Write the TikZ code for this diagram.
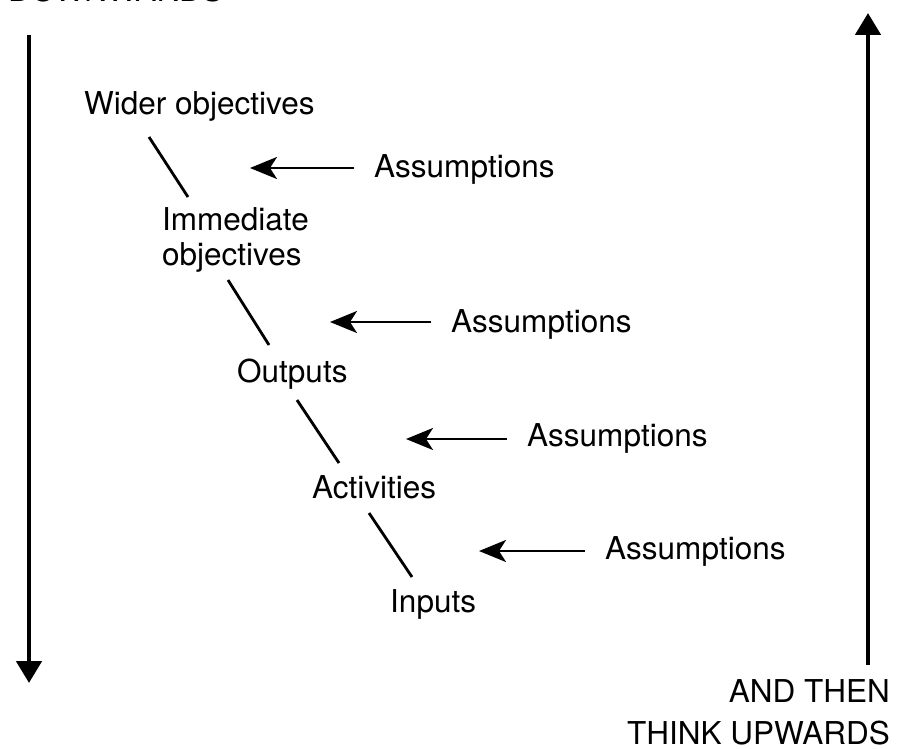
\documentclass[tikz,border=0pt]{standalone}
\usepackage{fontspec}
\setmainfont{TeX Gyre Heros}
\usetikzlibrary{arrows.meta}
\begin{document}
\begin{tikzpicture}[x=1pt,y=-1pt,
  lbl/.style={inner sep=0pt, font=\fontsize{31.5}{35}\selectfont},
  caplbl/.style={inner sep=0pt, align=right, font=\fontsize{31.5}{42}\selectfont},
  link/.style={line width=2.8pt},
  assarrow/.style={line width=2.5pt,shorten <=20pt,-{Stealth[length=27pt,width=22pt,inset=7pt]}},
  bigarrow/.style={line width=4.8pt,-{Triangle[length=22pt,width=25pt]}}]
\useasboundingbox (0,0) rectangle (897,749);
\clip (0,0) rectangle (897,749);

% cut-off heading at top left
\node[lbl,anchor=base west] (down) at (8,2) {DOWNWARDS};

% chain of levels
\node[lbl,anchor=base west] (wider) at (84,115) {Wider objectives};
\node[lbl,anchor=north west,align=left] (immediate) at (162,207.4) {Immediate\\objectives};
\node[lbl,anchor=base west] (outputs) at (237,382) {Outputs};
\node[lbl,anchor=base west] (activities) at (312,498) {Activities};
\node[lbl,anchor=base west] (inputs) at (390,612) {Inputs};

% assumptions
\node[lbl,anchor=base west] (a1) at (374,178) {Assumptions};
\node[lbl,anchor=base west] (a2) at (451,332) {Assumptions};
\node[lbl,anchor=base west] (a3) at (527,446) {Assumptions};
\node[lbl,anchor=base west] (a4) at (605,559) {Assumptions};

% links between levels
\coordinate (l1a) at (149,137); \coordinate (l1b) at (188,197);
\coordinate (l2a) at (228,280); \coordinate (l2b) at (269,345);
\coordinate (l3a) at (297,400); \coordinate (l3b) at (339,463);
\coordinate (l4a) at (369,513); \coordinate (l4b) at (412,577);
\draw[link] (l1a) -- (l1b);
\draw[link] (l2a) -- (l2b);
\draw[link] (l3a) -- (l3b);
\draw[link] (l4a) -- (l4b);

% assumption arrows
\coordinate (t1) at (250,168);
\coordinate (t2) at (330,322);
\coordinate (t3) at (406,439);
\coordinate (t4) at (479,551);
\draw[assarrow] (a1.west |- t1) -- (t1);
\draw[assarrow] (a2.west |- t2) -- (t2);
\draw[assarrow] (a3.west |- t3) -- (t3);
\draw[assarrow] (a4.west |- t4) -- (t4);

% big arrows
\coordinate (dtop) at (29,35); \coordinate (dtip) at (29,683);
\draw[bigarrow] (dtop) -- (dtip);
\coordinate (utail) at (868,665); \coordinate (utip) at (868,13);
\draw[bigarrow] (utail) -- (utip);

\node[caplbl,anchor=north east] (up) at (890,679) {AND THEN\\THINK UPWARDS};
\end{tikzpicture}
\end{document}
